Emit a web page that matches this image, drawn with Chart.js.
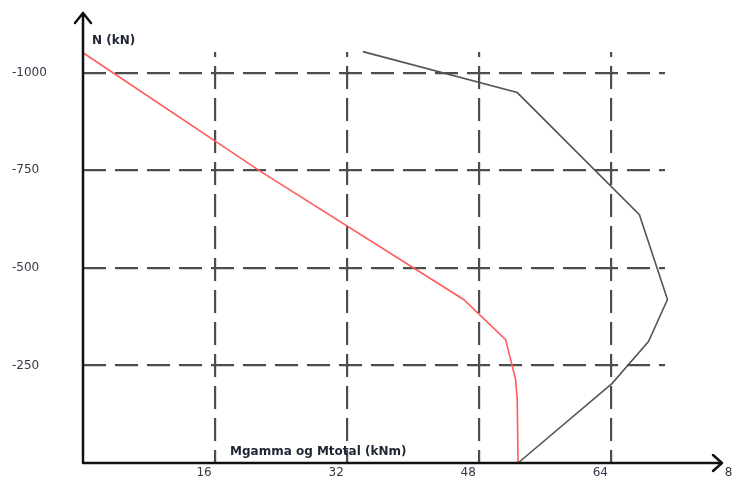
<!DOCTYPE html>
<html>
<head>
<meta charset="utf-8">
<script src="https://cdn.jsdelivr.net/npm/chart.js@4.4.1/dist/chart.umd.min.js"></script>
<style>
  html, body { margin: 0; padding: 0; background: #fff; overflow: hidden; }
  #wrap { width: 733px; height: 480px; }
</style>
</head>
<body>
<div id="wrap"><canvas id="chart" width="733" height="480"></canvas></div>
<script>
// values
const mGamma = [0, 21.5, 46.1, 51.2, 52.4, 52.6, 52.7];
const nGamma = [-1051, -747, -419, -316, -214, -163, 0];
const mTotal = [33.9, 52.6, 67.4, 70.8, 68.5, 64.1, 52.7];
const nTotal = [-1054, -949, -636, -419, -311, -204, 0];
const xTicks = [16, 32, 48, 64, 80];
const yTicks = [-1000, -750, -500, -250];
const xTitle = 'Mgamma og Mtotal (kNm)';
const yTitle = 'N (kN)';

const toPoints = (xs, ys) => xs.map((x, i) => ({ x: x, y: ys[i] }));

// axis lines with arrow heads and the two axis titles
const axesPlugin = {
  id: 'axes',
  afterDraw(chart) {
    const ctx = chart.ctx;
    const a = chart.chartArea;
    ctx.save();
    ctx.strokeStyle = '#111';
    ctx.lineWidth = 2.5;
    ctx.lineCap = 'round';
    ctx.lineJoin = 'round';
    // y axis
    ctx.beginPath();
    ctx.moveTo(a.left, a.bottom);
    ctx.lineTo(a.left, 13);
    ctx.moveTo(a.left - 8, 23);
    ctx.lineTo(a.left, 13);
    ctx.lineTo(a.left + 8, 23);
    // x axis
    ctx.moveTo(a.left, a.bottom);
    ctx.lineTo(722, a.bottom);
    ctx.moveTo(713, a.bottom - 8);
    ctx.lineTo(722, a.bottom);
    ctx.lineTo(713, a.bottom + 8);
    ctx.stroke();

    ctx.fillStyle = '#1e2533';
    ctx.font = 'bold 12px "DejaVu Sans"';
    ctx.textAlign = 'left';
    ctx.textBaseline = 'alphabetic';
    ctx.fillText(yTitle, a.left + 9, 44);
    ctx.fillText(xTitle, 230, 455);
    ctx.restore();
  }
};

new Chart(document.getElementById('chart'), {
  type: 'line',
  data: {
    datasets: [
      {
        label: 'Mgamma',
        data: toPoints(mGamma, nGamma),
        borderColor: '#ff5c5c',
        borderWidth: 1.6,
        pointRadius: 0,
        tension: 0,
        clip: false
      },
      {
        label: 'Mtotal',
        data: toPoints(mTotal, nTotal),
        borderColor: '#555555',
        borderWidth: 1.6,
        pointRadius: 0,
        tension: 0,
        clip: false
      }
    ]
  },
  plugins: [axesPlugin],
  options: {
    responsive: false,
    animation: false,
    layout: { padding: { left: 12, top: 52, right: 68, bottom: 0 } },
    plugins: {
      legend: { display: false },
      tooltip: { enabled: false }
    },
    scales: {
      x: {
        type: 'linear',
        min: 0,
        max: 70.5,
        afterBuildTicks: s => { s.ticks = xTicks.map(v => ({ value: v })); },
        afterFit: s => { s.height = 17; s.paddingLeft = 0; s.paddingRight = 0; },
        ticks: {
          autoSkip: false,
          maxRotation: 0,
          padding: 3,
          labelOffset: -11,
          color: '#333a48',
          font: { family: 'DejaVu Sans', size: 12 },
          callback: v => String(v)
        },
        grid: { drawTicks: false, color: '#4d4d4d', lineWidth: 2.2 },
        border: { display: false, dash: [23, 9], dashOffset: 18 }
      },
      y: {
        type: 'linear',
        reverse: true,
        min: -1053,
        max: 0,
        afterBuildTicks: s => { s.ticks = yTicks.map(v => ({ value: v })); },
        afterFit: s => { s.width = 71; s.paddingTop = 0; s.paddingBottom = 0; },
        ticks: {
          crossAlign: 'far',
          color: '#333a48',
          font: { family: 'DejaVu Sans', size: 12 },
          callback: v => String(v)
        },
        grid: { drawTicks: false, color: '#4d4d4d', lineWidth: 2.2 },
        border: { display: false, dash: [23, 9] }
      }
    }
  }
});
</script>
</body>
</html>
